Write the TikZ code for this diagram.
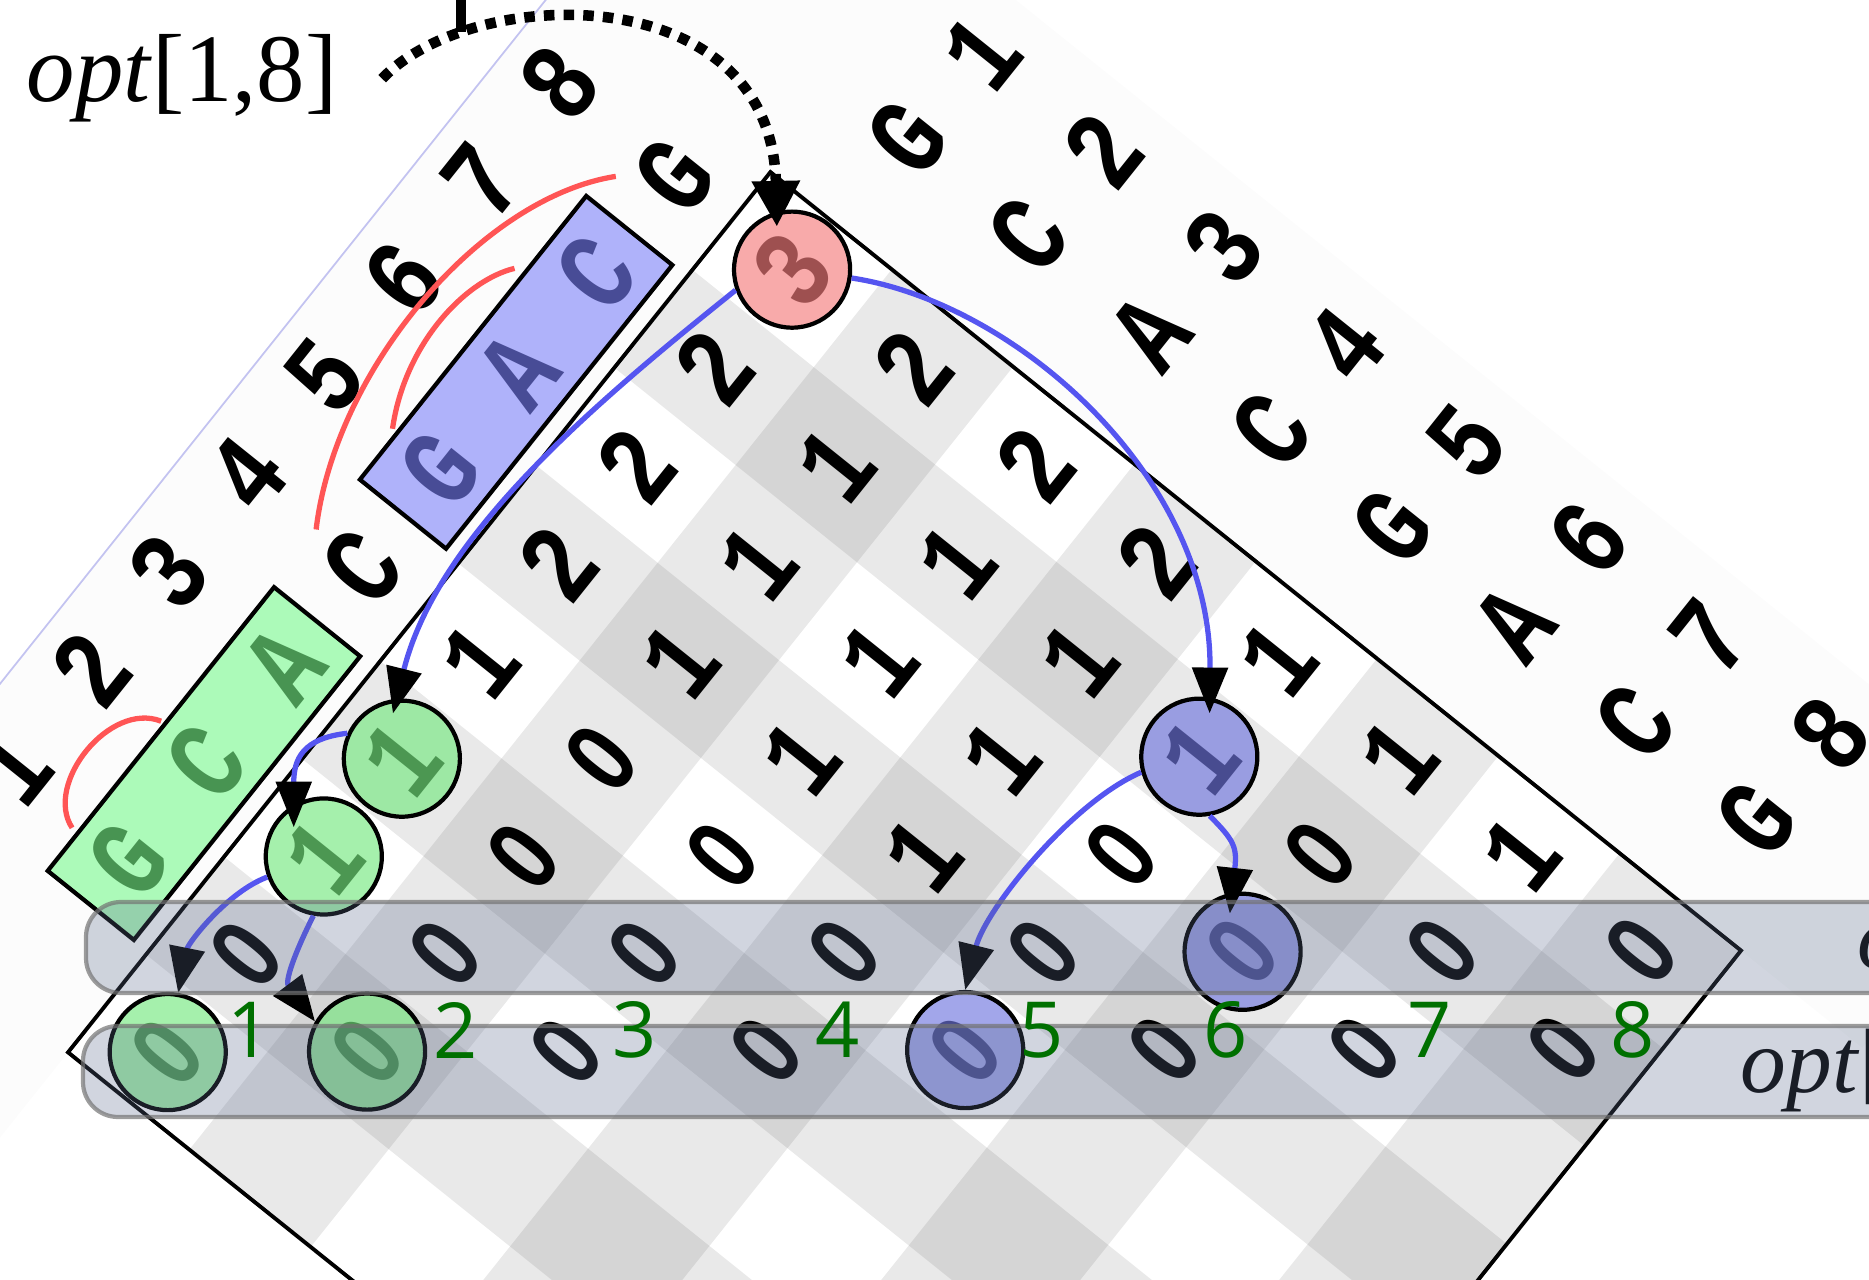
\documentclass[tikz,border=0pt]{standalone}
\usepackage{fontspec}
\setmainfont{Liberation Serif}
\newfontfamily\monofam{Liberation Mono}
\newfontfamily\zerofam{Liberation Sans}
\newfontfamily\labfam{Open Sans}
\newcommand\zeroglyph{{\zerofam\fontsize{23.5}{24}\selectfont 0}}
\usetikzlibrary{arrows.meta}
\definecolor{pinkfill}{RGB}{244,124,124}
\definecolor{greenfill}{RGB}{117,232,127}
\definecolor{bluefill}{RGB}{112,118,222}
\definecolor{boxgreen}{RGB}{172,250,185}
\definecolor{boxblue}{RGB}{175,178,250}
\definecolor{lgreen}{RGB}{72,148,82}
\definecolor{lblue}{RGB}{72,76,150}
\definecolor{arrowblue}{RGB}{85,85,240}
\definecolor{bandfill}{RGB}{90,105,140}
\definecolor{labgreen}{RGB}{0,112,0}
\definecolor{arcred}{RGB}{255,85,85}
\definecolor{lav}{RGB}{195,195,240}
\tikzset{
  glyph/.style={font=\fontsize{26}{26}\selectfont\monofam\bfseries, inner sep=0pt,
    cm={0.6237,0.7816,-0.9695,0.7776,(0,0)}},
  hl/.style={circle, draw=black, line width=1.2pt, minimum size=1.16cm, inner sep=0pt, fill opacity=0.65},
  stripe/.style={fill=black, fill opacity=0.085},
  outline/.style={draw=black, line width=1.1pt, line join=miter},
  seqbox/.style={draw=black, line width=1.2pt},
  pairarc/.style={draw=arcred, line width=1.5pt},
  trace/.style={draw=arrowblue, line width=1.5pt, -{Triangle[length=13pt,width=10pt,color=black]}},
  band/.style={rounded corners=0.35cm, fill=bandfill, fill opacity=0.28, draw=black!55, draw opacity=0.7, line width=1.2pt},
  idx/.style={font=\fontsize{22}{22}\selectfont\labfam, text=labgreen, inner sep=0pt},
  optlab/.style={font=\fontsize{27.5}{30}\selectfont, inner sep=0pt, anchor=base west},
  dotarrow/.style={line width=3pt, dash pattern=on 3pt off 2.6pt, -{Triangle[length=13pt,width=13pt]}},
}
\begin{document}
\begin{tikzpicture}[x=0.01cm, y=-0.01cm]
\useasboundingbox (0,0) rectangle (1869,1280);
\clip (0,0) rectangle (1869,1280);
\begin{scope}[shift={(7.7cm,-1.72cm)}, x={(1.2125cm,-0.9725cm)}, y={(-0.78cm,-0.9775cm)}]
  % label strips
  \fill[black!1.2] (-1.82,10) -- (-1.82,-2.3) -- (9,-2.3) -- (9,0) -- (0,0) -- (0,10) -- cycle;
  \draw[lav, line width=0.5pt] (-1.82,-0.5) -- (-1.82,10);
  % checker stripes
  \foreach \i in {2,4,6,8} \fill[stripe] (\i-1,0) -- (\i,0) -- (\i,9) -- (\i-1,9) -- cycle;
  \foreach \bb in {1,3,5,7} \fill[stripe] (0,\bb) -- (8,\bb) -- (8,\bb+1) -- (0,\bb+1) -- cycle;
  \draw[outline] (0,0) -- (8,0) -- (8,9) -- (0,9) -- cycle;
  % sequence boxes
  \draw[seqbox, fill=boxgreen] (-0.83,5.07) -- (-0.12,5.07) -- (-0.12,7.97) -- (-0.83,7.97) -- cycle;
  \draw[seqbox, fill=boxblue] (-0.83,1.07) -- (-0.12,1.07) -- (-0.12,3.97) -- (-0.83,3.97) -- cycle;
  % top-right labels
  \foreach \i/\ch in {1/G,2/C,3/A,4/C,5/G,6/A,7/C,8/G}
    \node[glyph] (tb\i) at (\i-0.45,-0.9) {\ch};
  \foreach \i in {1,...,8}
    \node[glyph] (tn\i) at (\i-0.42,-1.8) {\i};
  % left labels
  \foreach \j/\ch/\col in {1/G/lgreen,2/C/lgreen,3/A/lgreen,4/C/black,5/G/lblue,6/A/lblue,7/C/lblue,8/G/black}
    \node[glyph, text=\col] (lb\j) at (-0.47,8.5-\j) {\ch};
  \foreach \j in {1,...,8}
    \node[glyph] (ln\j) at (-1.42,8.5-\j) {\j};
  % matrix values
  \foreach \i/\j/\v in {1/0/0,2/1/0,3/2/0,4/3/0,5/4/0,6/5/0,7/6/0,8/7/0,
      1/1/0,2/2/0,3/3/0,4/4/0,5/5/0,6/6/0,7/7/0,8/8/0,
      1/2/1,2/3/0,3/4/0,4/5/1,5/6/0,6/7/0,7/8/1,
      1/3/1,2/4/0,3/5/1,4/6/1,5/7/1,6/8/1,
      1/4/1,2/5/1,3/6/1,4/7/1,5/8/1,
      1/5/2,2/6/1,3/7/1,4/8/2,
      1/6/2,2/7/1,3/8/2,
      1/7/2,2/8/2,
      1/8/3}
    \node[glyph] (d\i\j) at (\i-0.5,8.5-\j) {\ifnum\v=0 \zeroglyph\else\v\fi};
  % base pair arcs
  \coordinate (p4) at (-0.85,4.5);  \coordinate (p8) at (-0.76,0.8);
  \coordinate (p5) at (-0.87,3.49); \coordinate (p7) at (-0.9,1.88);
  \coordinate (p1) at (-0.88,7.58); \coordinate (p2) at (-0.86,6.47);
  \draw[pairarc] (p4) .. controls (-1.4,3.4) and (-1.35,1.6) .. (p8);
  \draw[pairarc] (p5) .. controls (-1.15,2.9) and (-1.1,2.2) .. (p7);
  \draw[pairarc] (p1) .. controls (-1.2,7.45) and (-1.2,6.6) .. (p2);
  % highlighted cells
  \node[hl, fill=pinkfill] (c18) at (0.5,0.5) {};
  \node[hl, fill=greenfill] (c13) at (0.5,5.5) {};
  \node[hl, fill=greenfill] (c12) at (0.5,6.5) {};
  \node[hl, fill=greenfill] (c10) at (0.5,8.5) {};
  \node[hl, fill=greenfill] (c21) at (1.5,7.5) {};
  \node[hl, fill=bluefill] (c57) at (4.5,1.5) {};
  \node[hl, fill=bluefill] (c66) at (5.5,2.5) {};
  \node[hl, fill=bluefill] (c54) at (4.5,4.5) {};
\end{scope}
% traceback arrows
\draw[trace, shorten >=-4.3pt] (c18.200) .. controls +(-150,120) and +(40,-160) .. (c13.95);
\draw[trace, shorten >=-4.5pt] (c18.-8) .. controls +(165,25) and +(2,-220) .. (c57.80);
\draw[trace, shorten >=-6.5pt] (c13.155) .. controls +(-45,5) and +(0,-45) .. (c12.120);
\draw[trace] (c12.200) .. controls +(-40,15) and +(10,-50) .. (c10.80);
\draw[trace] (c12.-100) .. controls +(-20,40) and +(-30,-40) .. (c21.150);
\draw[trace] (c57.195) .. controls +(-70,30) and +(20,-80) .. (c54.north);
\draw[trace, shorten >=-6pt] (c57.-80) .. controls +(25,25) and +(5,-45) .. (c66.100);
% row labels
\node[optlab] (opt18) at (26,102) {\textit{opt}[1,8]};
\node[optlab, font=\fontsize{26}{28}\selectfont] (optlow) at (1740,1093) {\textit{opt}[};
\node[optlab, font=\fontsize{26}{28}\selectfont] (optup) at (1857,969) {\textit{opt}[};
% bands
\draw[band] (86,902) rectangle (1960,993);
\draw[band] (83,1026) rectangle (1960,1117);
% green indices
\foreach \k/\xx in {1/250,2/456,3/635,4/838,5/1042,6/1226,7/1430,8/1633}
  \node[idx] (g\k) at (\xx,1030) {\k};
% dotted pointer
\draw[dotarrow, shorten >=-4.3pt] ([xshift=12.5pt]opt18.east) .. controls +(90,-95) and +(-5,-235) .. (c18.105);
\draw[line width=2.6pt] (461,0) -- (461,32);
\end{tikzpicture}
\end{document}
